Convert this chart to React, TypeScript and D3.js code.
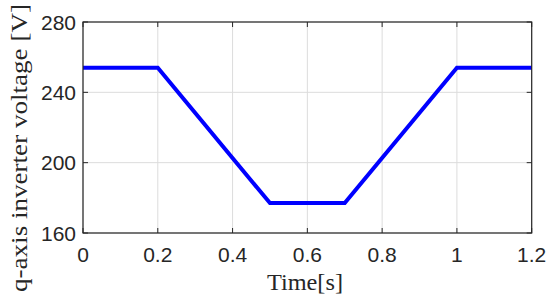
import React from "react";
import * as d3 from "d3";

const timeValues = [0, 0.2, 0.5, 0.7, 1.0, 1.2];
const voltageValues = [254, 254, 177, 177, 254, 254];
const xTicks = [0, 0.2, 0.4, 0.6, 0.8, 1, 1.2];
const yTicks = [160, 200, 240, 280];
const xLabel = "Time[s]";
const yLabel = "q-axis inverter voltage [V]";

export default function App() {
  const W = 550, H = 300;
  const L = 83, R = 531.7, T = 22, B = 233;
  const x = d3.scaleLinear().domain([0, 1.2]).range([L, R]);
  const y = d3.scaleLinear().domain([160, 280]).range([B, T]);
  const line = d3.line<number>().x((d, i) => x(timeValues[i])).y((d) => y(d));
  const tickLen = 5;
  const axisColor = "#262626";
  const gridColor = "#dcdcdc";
  const tickFont = "'Liberation Sans', Arial, Helvetica, sans-serif";
  const labelFont = "'Liberation Serif', 'DejaVu Serif', serif";
  return (
    <svg width={W} height={H} style={{ position: "absolute", left: 0, top: 0, background: "#fff" }}>
      {xTicks.map((t) => (
        <line key={"gx" + t} x1={x(t)} x2={x(t)} y1={T} y2={B} stroke={gridColor} strokeWidth={1} />
      ))}
      {yTicks.map((t) => (
        <line key={"gy" + t} x1={L} x2={R} y1={y(t)} y2={y(t)} stroke={gridColor} strokeWidth={1} />
      ))}
      <path d={line(voltageValues) || ""} fill="none" stroke="#0000ff" strokeWidth={4} strokeLinejoin="miter" />
      <rect x={L} y={T} width={R - L} height={B - T} fill="none" stroke={axisColor} strokeWidth={1.2} />
      {xTicks.map((t) => (
        <g key={"tx" + t}>
          <line x1={x(t)} x2={x(t)} y1={B} y2={B - tickLen} stroke={axisColor} strokeWidth={1} />
          <line x1={x(t)} x2={x(t)} y1={T} y2={T + tickLen} stroke={axisColor} strokeWidth={1} />
          <text x={x(t)} y={262} textAnchor="middle" fontFamily={tickFont} fontSize={21} fill="#262626">
            {String(t)}
          </text>
        </g>
      ))}
      {yTicks.map((t) => (
        <g key={"ty" + t}>
          <line x1={L} x2={L + tickLen} y1={y(t)} y2={y(t)} stroke={axisColor} strokeWidth={1} />
          <line x1={R} x2={R - tickLen} y1={y(t)} y2={y(t)} stroke={axisColor} strokeWidth={1} />
          <text x={76} y={y(t)} dy="0.36em" textAnchor="end" fontFamily={tickFont} fontSize={21} fill="#262626">
            {String(t)}
          </text>
        </g>
      ))}
      <text x={305} y={290} textAnchor="middle" fontFamily={labelFont} fontSize={24} fill="#262626" textLength={76} lengthAdjust="spacingAndGlyphs">
        {xLabel}
      </text>
      <text
        transform={`translate(27,148) rotate(-90)`}
        textAnchor="middle"
        fontFamily={labelFont}
        fontSize={24}
        fill="#262626"
        textLength={288}
        lengthAdjust="spacingAndGlyphs"
      >
        {yLabel}
      </text>
    </svg>
  );
}
